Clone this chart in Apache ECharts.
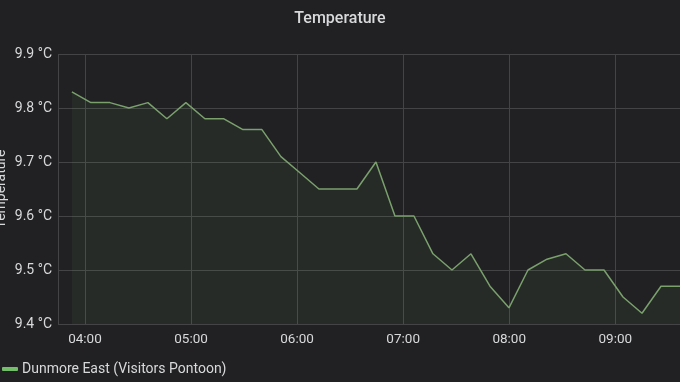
<!DOCTYPE html>
<html>
<head>
<meta charset="utf-8">
<script src="https://cdn.jsdelivr.net/npm/echarts@6/dist/echarts.min.js"></script>
<style>
html,body{margin:0;padding:0;background:#212124;}
#c{width:680px;height:382px;}
</style>
</head>
<body>
<div id="c"></div>
<script>
const titleText = "Temperature";
const seriesName = "Dunmore East (Visitors Pontoon)";
const yAxisName = "Temperature";
const times = ["03:52:36","04:03:21","04:14:06","04:24:51","04:35:36","04:46:21","04:57:06","05:07:51","05:18:36","05:29:21","05:40:06","05:50:51","06:01:36","06:12:21","06:23:06","06:33:51","06:44:36","06:55:21","07:06:06","07:16:51","07:27:36","07:38:21","07:49:06","07:59:51","08:10:36","08:21:21","08:32:06","08:42:51","08:53:36","09:04:21","09:15:06","09:25:51","09:36:36"];
const temps = [9.83,9.81,9.81,9.80,9.81,9.78,9.81,9.78,9.78,9.76,9.76,9.71,9.68,9.65,9.65,9.65,9.70,9.60,9.60,9.53,9.50,9.53,9.47,9.43,9.50,9.52,9.53,9.50,9.50,9.45,9.42,9.47,9.47];
const axisStart = "03:44:45";
const yMin = 9.4, yMax = 9.9, yStep = 0.1;

const day = "2020-01-01T";
const toMs = t => new Date(day + t).getTime();
const data = times.map((t,i) => [toMs(t), temps[i]]);

const chart = echarts.init(document.getElementById('c'), null, {renderer:'canvas'});
chart.setOption({
  backgroundColor: '#212124',
  animation: false,
  textStyle: {fontFamily: 'Roboto'},
  title: {
    text: titleText, left: 'center', top: 6,
    textStyle: {color: '#d8d9da', fontSize: 16, fontWeight: 500, fontFamily: 'Roboto'}
  },
  legend: {
    left: 2, top: 362, padding: 0, itemWidth: 16, itemHeight: 4, itemGap: 6,
    icon: 'roundRect',
    textStyle: {color: '#d8d9da', fontSize: 14, fontFamily: 'Roboto', padding: [0,0,0,-1]},
    data: [{name: seriesName, itemStyle: {color: '#73bf69'}}]
  },
  grid: {left: 58, right: 0, top: 54, bottom: 58, containLabel: false, outerBoundsMode: 'none'},
  xAxis: {
    type: 'time',
    min: toMs(axisStart),
    max: toMs(times[times.length-1]),
    minInterval: 3600000, maxInterval: 3600000,
    axisLine: {show: false},
    axisTick: {show: false},
    splitLine: {show: true, lineStyle: {color: '#444447', width: 1}},
    axisLabel: {
      color: '#d8d9da', fontSize: 13.5, margin: 9, fontFamily: 'Roboto',
      formatter: v => { const d = new Date(v); return String(d.getHours()).padStart(2,'0') + ':' + String(d.getMinutes()).padStart(2,'0'); },
      hideOverlap: false
    }
  },
  yAxis: {
    type: 'value', min: yMin, max: yMax, interval: yStep,
    name: yAxisName, nameLocation: 'middle', nameGap: 50, nameRotate: 90,
    nameMoveOverlap: false,
    nameTextStyle: {color: '#d8d9da', fontSize: 14, fontFamily: 'Roboto'},
    axisLine: {show: false}, axisTick: {show: false},
    splitLine: {lineStyle: {color: '#444447', width: 1}},
    axisLabel: {color: '#d8d9da', fontSize: 14, margin: 6, fontFamily: 'Roboto',
      formatter: v => v.toFixed(1) + ' °C'}
  },
  series: [{
    name: seriesName, type: 'line', data: data, showSymbol: false,
    lineStyle: {color: '#7aa06c', width: 1.5},
    itemStyle: {color: '#73bf69'},
    areaStyle: {color: 'rgba(115,191,105,0.1)'}
  }]
});
</script>
</body>
</html>
